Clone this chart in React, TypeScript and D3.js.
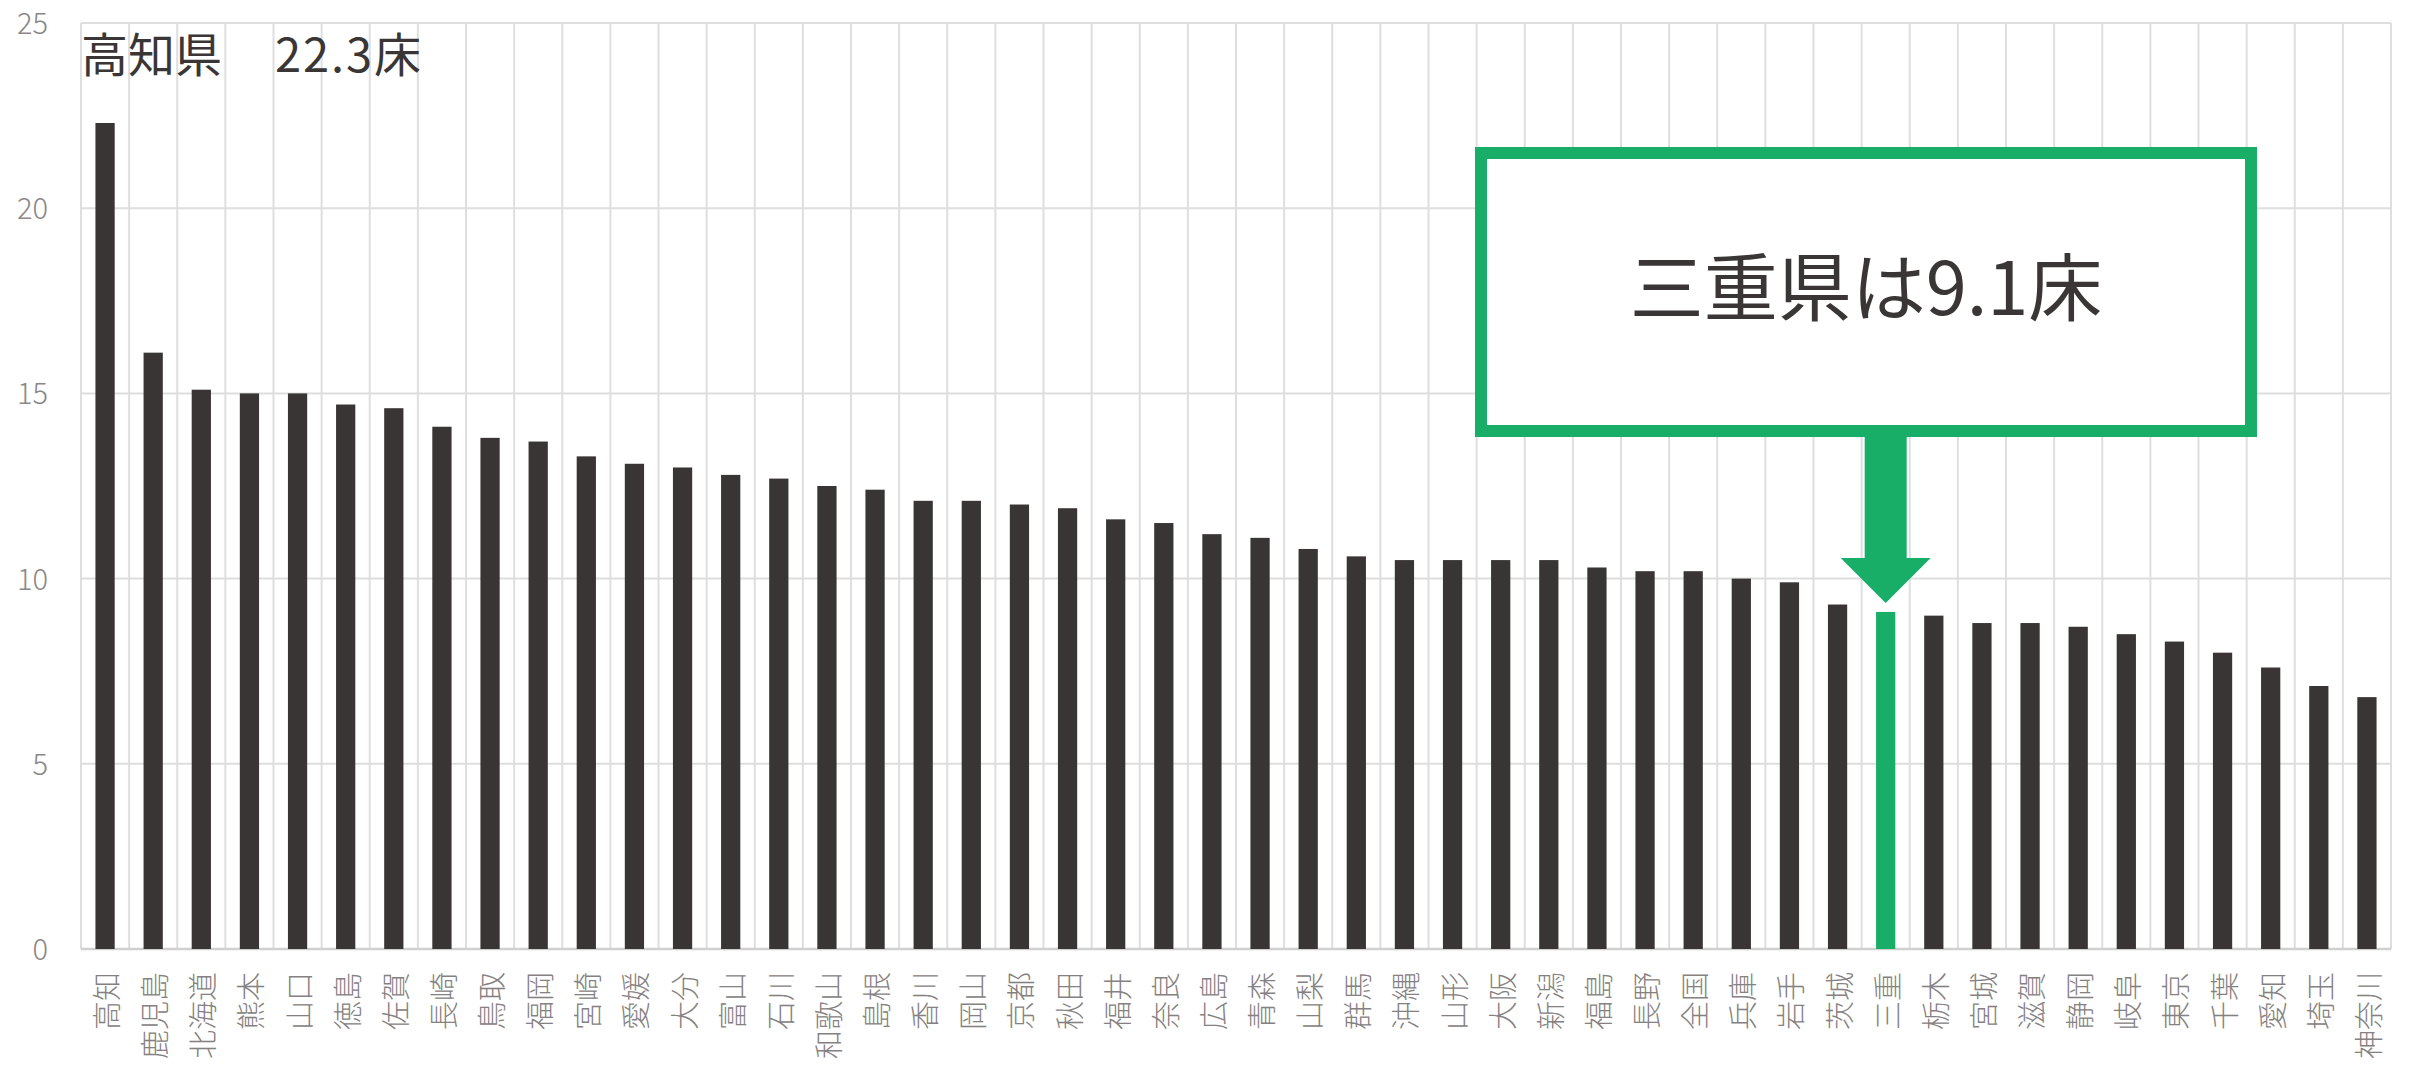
import React, { useEffect } from 'react';
import * as d3 from 'd3';

const prefectures = [
  '高知', '鹿児島', '北海道', '熊本', '山口', '徳島', '佐賀', '長崎', '鳥取', '福岡',
  '宮崎', '愛媛', '大分', '富山', '石川', '和歌山', '島根', '香川', '岡山', '京都',
  '秋田', '福井', '奈良', '広島', '青森', '山梨', '群馬', '沖縄', '山形', '大阪',
  '新潟', '福島', '長野', '全国', '兵庫', '岩手', '茨城', '三重', '栃木', '宮城',
  '滋賀', '静岡', '岐阜', '東京', '千葉', '愛知', '埼玉', '神奈川',
];
const beds = [
  22.3, 16.1, 15.1, 15.0, 15.0, 14.7, 14.6, 14.1, 13.8, 13.7,
  13.3, 13.1, 13.0, 12.8, 12.7, 12.5, 12.4, 12.1, 12.1, 12.0,
  11.9, 11.6, 11.5, 11.2, 11.1, 10.8, 10.6, 10.5, 10.5, 10.5,
  10.5, 10.3, 10.2, 10.2, 10.0, 9.9, 9.3, 9.1, 9.0, 8.8,
  8.8, 8.7, 8.5, 8.3, 8.0, 7.6, 7.1, 6.8,
];
const yTicks = [0, 5, 10, 15, 20, 25];
const highlight = '三重';
const titleName = '高知県';
const titleValue = '22.3床';
const calloutText = '三重県は9.1床';

const FONT = "'Noto Sans CJK JP', 'Noto Sans', sans-serif";
const BAR = '#393534';
const GREEN = '#19AE68';
const GRID = '#dedede';

export default function App() {
  useEffect(() => {
    document.body.style.margin = '0';
    document.body.style.overflow = 'hidden';
  }, []);

  const W = 2410;
  const H = 1067;
  const left = 81;
  const right = 2391;
  const top = 23;
  const bottom = 949;

  const x = d3.scaleBand<string>().domain(prefectures).range([left, right]).padding(0);
  const y = d3.scaleLinear().domain([0, 25]).range([bottom, top]);
  const bw = x.bandwidth() * 0.4;
  const data = prefectures.map((p, i) => ({ p, v: beds[i] }));

  const hx = (x(highlight) as number) + x.bandwidth() / 2;
  const hv = beds[prefectures.indexOf(highlight)];
  const tipY = y(hv) - 9;

  // callout box
  const boxX = 1481, boxY = 153, boxW = 770, boxH = 278, boxStroke = 12;
  const stemTop = boxY + boxH + boxStroke / 2;
  const headTop = tipY - 45;

  return (
    <svg width={W} height={H} style={{ position: 'absolute', left: 0, top: 0, background: '#fff' }}
      fontFamily={FONT}>
      <rect x={0} y={0} width={W} height={H} fill="#fff" />
      {/* horizontal gridlines */}
      {yTicks.filter(t => t > 0).map(t => (
        <line key={'h' + t} x1={left} x2={right} y1={y(t)} y2={y(t)} stroke={GRID} strokeWidth={2} />
      ))}
      {/* vertical gridlines */}
      {prefectures.map(p => (
        <line key={'v' + p} x1={x(p)} x2={x(p)} y1={top} y2={bottom} stroke={GRID} strokeWidth={2} />
      ))}
      <line x1={right} x2={right} y1={top} y2={bottom} stroke={GRID} strokeWidth={2} />
      {/* baseline */}
      <line x1={left} x2={right} y1={y(0)} y2={y(0)} stroke="#d0d0d0" strokeWidth={2.5} />

      {/* bars */}
      {data.map(d => (
        <rect key={'b' + d.p}
          x={(x(d.p) as number) + (x.bandwidth() - bw) / 2}
          y={y(d.v)}
          width={bw}
          height={y(0) - y(d.v)}
          fill={d.p === highlight ? GREEN : BAR} />
      ))}

      {/* y tick labels */}
      {yTicks.map(t => (
        <text key={'yt' + t} x={48} y={y(t) - 2} textAnchor="end" dominantBaseline="central"
          fontSize={29} fill="#8a8787" fontWeight={300}>{t}</text>
      ))}

      {/* category labels */}
      {prefectures.map(p => {
        const cx = (x(p) as number) + x.bandwidth() / 2;
        return (
          <text key={'c' + p} transform={`translate(${cx},972) rotate(-90)`} textAnchor="end"
            dominantBaseline="central" fontSize={29} fill="#858181" fontWeight={300}>{p}</text>
        );
      })}

      {/* title */}
      <text x={81} y={72} fontSize={47} fill="#3a3636">{titleName}</text>
      <text x={275} y={72} fontSize={47} fill="#3a3636"
        textLength={146} lengthAdjust="spacing">{titleValue}</text>

      {/* callout */}
      <rect x={boxX} y={boxY} width={boxW} height={boxH} fill="#fff" stroke={GREEN} strokeWidth={boxStroke} />
      <text x={boxX + boxW / 2} y={315} textAnchor="middle" fontSize={74} fill="#3a3636">{calloutText}</text>
      <rect x={hx - 21} y={stemTop} width={42} height={headTop - stemTop + 1} fill={GREEN} />
      <polygon points={`${hx - 45},${headTop} ${hx + 45},${headTop} ${hx},${tipY}`} fill={GREEN} />
    </svg>
  );
}
